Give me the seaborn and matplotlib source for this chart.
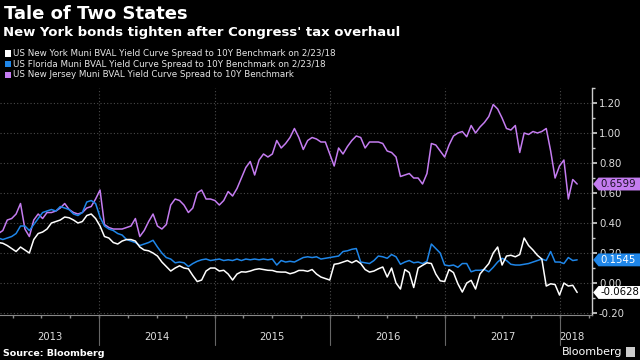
import numpy as np
import pandas as pd
import matplotlib
matplotlib.use("Agg")
import matplotlib.pyplot as plt
import matplotlib.dates as mdates
from matplotlib.patches import Polygon, Rectangle
from matplotlib.lines import Line2D
import seaborn as sns

# biweekly readings of the three spreads (percentage points)
dates = pd.date_range(end="2018-02-23", periods=132, freq="14D")

ny_spread = [
    0.27, 0.265, 0.25, 0.23, 0.21, 0.24, 0.22, 0.20, 0.29, 0.33,
    0.34, 0.36, 0.40, 0.41, 0.42, 0.44, 0.435, 0.42, 0.40, 0.41,
    0.45, 0.46, 0.43, 0.38, 0.31, 0.30, 0.27, 0.26, 0.28, 0.29,
    0.29, 0.28, 0.24, 0.22, 0.215, 0.20, 0.18, 0.14, 0.11, 0.08,
    0.10, 0.115, 0.10, 0.095, 0.05, 0.01, 0.02, 0.08, 0.10, 0.10,
    0.08, 0.085, 0.06, 0.02, 0.06, 0.075, 0.073, 0.08, 0.09, 0.095,
    0.09, 0.085, 0.084, 0.075, 0.073, 0.073, 0.062, 0.07, 0.084, 0.084,
    0.078, 0.09, 0.06, 0.04, 0.03, 0.02, 0.125, 0.13, 0.14, 0.15,
    0.135, 0.15, 0.13, 0.09, 0.073, 0.08, 0.095, 0.107, 0.04, 0.10,
    0.0, -0.04, 0.09, 0.07, -0.03, 0.10, 0.118, 0.135, 0.13, 0.06,
    0.015, 0.01, 0.09, 0.07, -0.005, -0.06, 0.0, 0.018, -0.04, 0.06,
    0.095, 0.13, 0.20, 0.24, 0.12, 0.18, 0.185, 0.175, 0.19, 0.30,
    0.25, 0.22, 0.185, 0.16, -0.02, -0.005, -0.01, -0.08, 0.0, -0.02,
    -0.015, -0.0628,
]

fl_spread = [
    0.30, 0.29, 0.30, 0.31, 0.33, 0.38, 0.38, 0.35, 0.39, 0.43,
    0.47, 0.48, 0.49, 0.48, 0.51, 0.50, 0.49, 0.46, 0.45, 0.47,
    0.54, 0.55, 0.53, 0.44, 0.38, 0.36, 0.35, 0.33, 0.32, 0.29,
    0.28, 0.27, 0.25, 0.26, 0.27, 0.285, 0.24, 0.20, 0.17, 0.16,
    0.135, 0.14, 0.135, 0.11, 0.13, 0.145, 0.155, 0.16, 0.15, 0.155,
    0.16, 0.15, 0.155, 0.15, 0.16, 0.15, 0.16, 0.155, 0.16, 0.155,
    0.16, 0.155, 0.16, 0.12, 0.15, 0.14, 0.145, 0.14, 0.155, 0.17,
    0.175, 0.17, 0.175, 0.16, 0.165, 0.17, 0.175, 0.18, 0.21, 0.215,
    0.225, 0.23, 0.14, 0.135, 0.13, 0.15, 0.18, 0.175, 0.165, 0.19,
    0.175, 0.125, 0.14, 0.15, 0.135, 0.14, 0.13, 0.145, 0.26, 0.23,
    0.20, 0.12, 0.115, 0.12, 0.105, 0.13, 0.13, 0.075, 0.085, 0.085,
    0.09, 0.075, 0.105, 0.14, 0.165, 0.15, 0.125, 0.12, 0.12, 0.125,
    0.13, 0.14, 0.15, 0.16, 0.15, 0.21, 0.14, 0.14, 0.13, 0.17,
    0.15, 0.1545,
]

nj_spread = [
    0.33, 0.35, 0.42, 0.43, 0.46, 0.53, 0.36, 0.31, 0.42, 0.46,
    0.43, 0.47, 0.47, 0.48, 0.50, 0.53, 0.49, 0.47, 0.46, 0.47,
    0.50, 0.51, 0.56, 0.62, 0.39, 0.37, 0.36, 0.36, 0.36, 0.37,
    0.38, 0.43, 0.31, 0.35, 0.41, 0.46, 0.38, 0.36, 0.39, 0.52,
    0.56, 0.55, 0.52, 0.47, 0.50, 0.60, 0.62, 0.56, 0.56, 0.55,
    0.52, 0.55, 0.61, 0.58, 0.63, 0.70, 0.77, 0.81, 0.72, 0.82,
    0.86, 0.84, 0.86, 0.95, 0.90, 0.93, 0.97, 1.03, 0.97, 0.89,
    0.95, 0.97, 0.96, 0.94, 0.94, 0.86, 0.78, 0.90, 0.86, 0.91,
    0.95, 0.98, 0.97, 0.90, 0.94, 0.94, 0.94, 0.93, 0.88, 0.87,
    0.84, 0.71, 0.72, 0.73, 0.70, 0.70, 0.66, 0.73, 0.93, 0.92,
    0.88, 0.84, 0.92, 0.98, 1.00, 1.01, 0.975, 1.05, 1.00, 1.04,
    1.07, 1.11, 1.19, 1.16, 1.10, 1.03, 1.02, 1.05, 0.87, 1.00,
    0.99, 1.01, 1.00, 1.01, 1.03, 0.88, 0.70, 0.78, 0.82, 0.56,
    0.69, 0.6599,
]

states = ["New York", "Florida", "New Jersey"]
legend_labels = [
    "US New York Muni BVAL Yield Curve Spread to 10Y Benchmark on 2/23/18",
    "US Florida Muni BVAL Yield Curve Spread to 10Y Benchmark on 2/23/18",
    "US New Jersey Muni BVAL Yield Curve Spread to 10Y Benchmark",
]
palette = {"New York": "#ffffff", "Florida": "#1f86e8", "New Jersey": "#c47cf0"}
badge_text_colors = {"New York": "#000000", "Florida": "#ffffff", "New Jersey": "#1a1024"}
year_labels = ["2013", "2014", "2015", "2016", "2017", "2018"]
y_ticks = [-0.2, 0.0, 0.2, 0.4, 0.6, 0.8, 1.0, 1.2]

df = pd.DataFrame({"date": dates, "New York": ny_spread,
                   "Florida": fl_spread, "New Jersey": nj_spread})
long_df = df.melt(id_vars="date", var_name="state", value_name="spread")

sns.set_theme(style="dark", rc={
    "figure.facecolor": "black", "axes.facecolor": "black",
    "text.color": "white", "axes.edgecolor": "#888888",
})
plt.rcParams["font.family"] = ["DejaVu Sans"]

fig = plt.figure(figsize=(6.4, 3.6), dpi=100)
ax = fig.add_axes([0.0, 0.125, 0.925, 0.6306])

sns.lineplot(data=long_df, x="date", y="spread", hue="state",
             hue_order=["New Jersey", "Florida", "New York"],
             palette=palette, linewidth=1.1, legend=False, ax=ax)

x_left = pd.Timestamp("2013-02-20")
x_right = pd.Timestamp("2018-04-11")
ax.set_xlim(x_left, x_right)
ax.set_ylim(-0.213, 1.30)
ax.set_xlabel("")
ax.set_ylabel("")

# grid
grid_kw = dict(color="#4a4a4a", linewidth=0.8, linestyle=(0, (1, 2)), zorder=0)
for v in y_ticks:
    ax.axhline(v, **grid_kw)
boundaries = [pd.Timestamp(f"{y}-01-01") for y in year_labels[1:]]
for b in boundaries:
    ax.axvline(b, **grid_kw)
    ax.add_line(Line2D([b, b], [0, -0.13], transform=ax.get_xaxis_transform(),
                       color="#666666", linewidth=0.8, clip_on=False))

# x axis: year labels in the middle of each span, quarterly minor ticks
edges = [x_left] + boundaries + [x_right]
mids = [edges[i] + (edges[i + 1] - edges[i]) / 2 for i in range(len(year_labels))]
mids[-1] = boundaries[-1] + pd.Timedelta(days=36)
ax.set_xticks(mids)
ax.set_xticklabels(year_labels)
ax.xaxis.set_minor_locator(mdates.MonthLocator(bymonth=[1, 4, 7, 10]))
ax.tick_params(axis="x", which="major", length=0, pad=12.5, labelsize=7.2, labelcolor="#dddddd")
ax.tick_params(axis="x", which="minor", length=2.5, color="#888888", bottom=True)

# y axis on the right
ax.yaxis.tick_right()
ax.set_yticks(y_ticks)
ax.set_yticklabels([f"{v:.2f}" for v in y_ticks])
ax.set_yticks(np.arange(-0.2, 1.31, 0.1), minor=True)
ax.tick_params(axis="y", which="major", length=3.5, color="#cccccc", pad=1.5,
               labelsize=7.3, labelcolor="#dddddd", right=True, left=False)
ax.tick_params(axis="y", which="minor", length=2, color="#cccccc", right=True, left=False)

for side in ["top", "left"]:
    ax.spines[side].set_visible(False)
ax.spines["right"].set_color("#cccccc")
ax.spines["bottom"].set_color("#888888")
ax.spines["right"].set_linewidth(1.0)
ax.spines["bottom"].set_linewidth(0.8)

# last-value badges
half_h = 0.043
last_vals = {"New York": ny_spread[-1], "Florida": fl_spread[-1], "New Jersey": nj_spread[-1]}
for s in states:
    v = last_vals[s]
    pts = [(1.002, v), (1.011, v + half_h), (1.09, v + half_h),
           (1.09, v - half_h), (1.011, v - half_h)]
    ax.add_patch(Polygon(pts, closed=True, transform=ax.get_yaxis_transform(),
                         facecolor=palette[s], edgecolor="none", clip_on=False, zorder=5))
    ax.text(1.014, v, f"{v:.4f}", transform=ax.get_yaxis_transform(),
            ha="left", va="center", fontsize=7.3, color=badge_text_colors[s], zorder=6)

# titles and legend
fig.text(0.006, 0.962, "Tale of Two States", fontsize=13, fontweight="bold",
         color="white", va="center", ha="left")
fig.text(0.005, 0.91, "New York bonds tighten after Congress' tax overhaul",
         fontsize=9.5, fontweight="bold", color="white", va="center", ha="left")
for i, s in enumerate(states):
    yc = 1 - (53.5 + 10.7 * i) / 360
    fig.patches.append(Rectangle((5 / 640, yc - 3.2 / 360), 6 / 640, 6.4 / 360,
                                 transform=fig.transFigure, facecolor=palette[s],
                                 edgecolor="none"))
    fig.text(13 / 640, yc, legend_labels[i], fontsize=6.35, color="#e6e6e6",
             va="center", ha="left")

fig.text(3 / 640, 1 - 353 / 360, "Source: Bloomberg", fontsize=6.8,
         fontweight="bold", color="white", va="center", ha="left")
fig.text(622 / 640, 1 - 352 / 360, "Bloomberg", fontsize=8, color="white",
         va="center", ha="right")
fig.patches.append(Rectangle((626 / 640, 1 - 357 / 360), 9 / 640, 10 / 360,
                             transform=fig.transFigure, facecolor="#cccccc",
                             edgecolor="none"))

fig.savefig("out.png", dpi=100, facecolor="black")
plt.close(fig)
